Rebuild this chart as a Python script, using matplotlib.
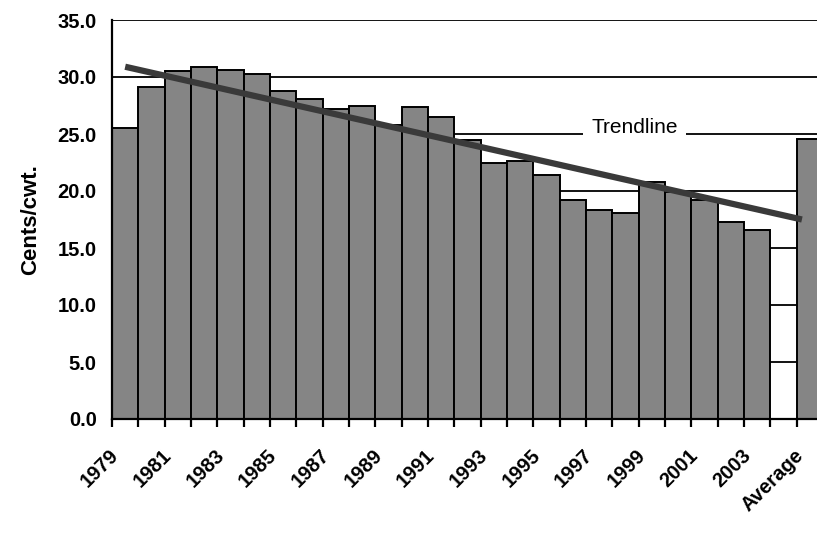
import matplotlib
matplotlib.use("Agg")
import matplotlib.pyplot as plt
import matplotlib.transforms as mtransforms
import numpy as np

years = list(range(1979, 2004))
values = [25.5, 29.1, 30.5, 30.9, 30.6, 30.3, 28.8, 28.1, 27.2, 27.5,
          25.8, 27.4, 26.5, 24.5, 22.5, 22.6, 21.4, 19.2, 18.3, 18.1,
          20.8, 19.9, 19.2, 17.3, 16.6]
average_value = 24.6
categories = [str(y) for y in years] + ["", "Average"]
tick_labels = [str(y) for y in years[::2]] + ["Average"]
trend_x = [0, 25.7]
trend_values = [30.9, 17.5]
y_ticks = [0, 5, 10, 15, 20, 25, 30, 35]

plt.rcParams['font.family'] = ['Liberation Sans', 'DejaVu Sans']

fig = plt.figure(figsize=(8.17, 5.37), dpi=100)
W, H = 817, 537
ax = fig.add_axes([112 / W, (H - 419) / H, 711 / W, (419 - 20) / H])

all_vals = values + [np.nan, average_value]
x = np.arange(len(categories))
ax.bar(x, all_vals, width=1.0, color='#858585', edgecolor='black', linewidth=1.4, zorder=2)

ax.set_xlim(-0.5, len(categories) - 0.5)
ax.set_ylim(0, 35)
ax.set_yticks(y_ticks)
ax.set_yticklabels([f"{v:.1f}" for v in y_ticks], fontsize=14.5, fontweight='bold')
ax.tick_params(axis='y', length=0, pad=11)
ax.yaxis.grid(True, color='black', linewidth=1.3, zorder=0)
ax.set_axisbelow(True)

major_pos = list(range(0, len(categories), 2))
ax.set_xticks(major_pos)
ax.set_xticklabels(tick_labels, rotation=45, ha='right', va='top', rotation_mode='anchor',
                   fontsize=14.5, fontweight='bold')
ax.set_xticks(np.arange(-0.5, len(categories), 1.0), minor=True)
ax.tick_params(axis='x', which='major', length=0, pad=19)
ax.tick_params(axis='x', which='minor', length=6, width=1.6, direction='out')
offset = mtransforms.ScaledTranslation(-16 / 100, 0, fig.dpi_scale_trans)
for lbl in ax.get_xticklabels():
    lbl.set_transform(lbl.get_transform() + offset)

for s in ['top', 'right']:
    ax.spines[s].set_visible(False)
ax.spines['left'].set_linewidth(1.6)
ax.spines['bottom'].set_linewidth(1.6)

ax.plot(trend_x, trend_values, color='#3a3a3a', linewidth=4.5, zorder=3, solid_capstyle='butt')

ax.text(19.35, 25.6, "Trendline", fontsize=15, ha='center', va='center', zorder=4,
        bbox=dict(facecolor='white', edgecolor='none', pad=6))

ax.set_ylabel("Cents/cwt.", fontsize=16, fontweight='bold', labelpad=12)

fig.savefig("out.png", dpi=100)
